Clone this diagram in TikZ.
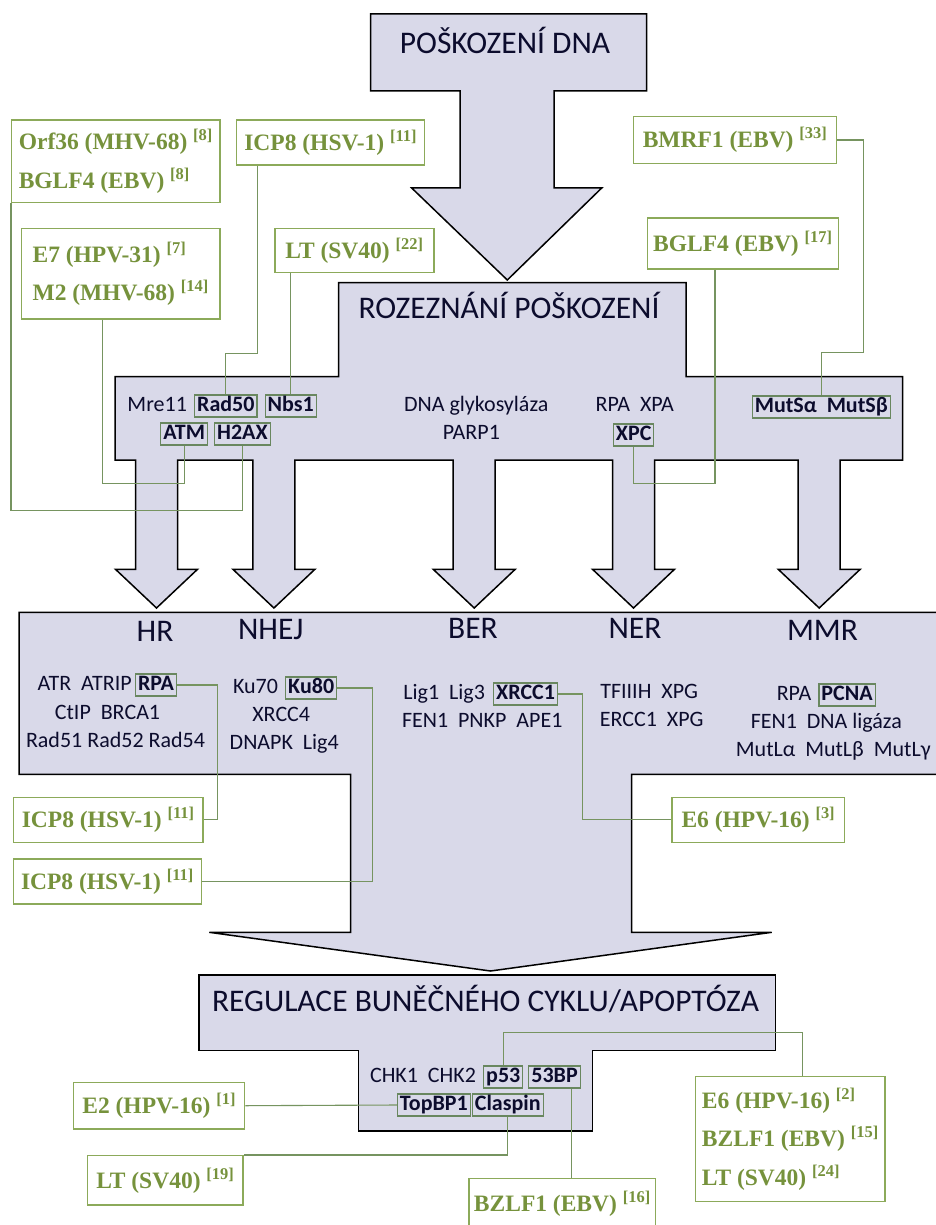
\documentclass[tikz,border=0pt]{standalone}
\usepackage{fontspec}
\setmainfont{Carlito}
\newfontfamily\virfont{Liberation Serif}
\usetikzlibrary{positioning}
\definecolor{shapefill}{RGB}{217,217,233}
\definecolor{lettercolor}{RGB}{12,12,45}
\definecolor{virgreen}{RGB}{118,146,60}
\definecolor{boxgreen}{RGB}{140,170,90}
\definecolor{linkgreen}{RGB}{118,148,96}
\definecolor{protgreen}{RGB}{105,135,95}
\newcommand{\gap}{\hspace{0.45em}}
\newcommand{\rf}[1]{\textsuperscript{[#1]}}
\tikzset{
	block/.style={
		draw=black,
		line width=1.5pt,
		fill=shapefill,
		line join=miter
	},
	title/.style={
		anchor=base,
		text=lettercolor,
		inner sep=0pt,
		font=\fontsize{31.5}{36}\selectfont
	},
	prot/.style={
		text=lettercolor,
		inner sep=0pt,
		text height=15pt,
		text depth=4pt,
		font=\fontsize{22}{26}\selectfont
	},
	protbox/.style={
		prot,
		draw=protgreen,
		line width=1.1pt,
		inner xsep=2.5pt,
		inner ysep=1.5pt,
		font=\fontsize{22}{26}\selectfont\bfseries
	},
	virus/.style={
		draw=boxgreen,
		line width=1.4pt,
		fill=white,
		text=virgreen,
		anchor=north west,
		align=left,
		inner sep=0pt,
		font=\virfont\bfseries\fontsize{23.5}{38.5}\selectfont
	},
	link/.style={
		draw=linkgreen,
		line width=1.1pt
	},
}
\begin{document}
\begin{tikzpicture}[x=1pt,y=-1pt]
\useasboundingbox (0,0) rectangle (936,1225);
\clip (0,0) rectangle (936,1225);
\fill[white] (0,0) rectangle (936,1225);

% block arrows
\draw[block] (370.7,14) -- (646.7,14) -- (646.7,91) -- (554,91) -- (554,188) -- (601.7,188)
  -- (507.3,280) -- (411.7,188) -- (460,188) -- (460,91) -- (370.7,91) -- cycle;
\draw[block] (115,376.7) -- (115,460)
  foreach \c in {156.5,273.9,474.2,633.5,819.2} {
    -- (\c-21,460) -- (\c-21,569.3) -- (\c-41,569.3) -- (\c,608)
    -- (\c+41,569.3) -- (\c+21,569.3) -- (\c+21,460)
  }
  -- (902.7,460) -- (902.7,376.7) -- (686,376.7) -- (686,282.7)
  -- (338.7,282.7) -- (338.7,376.7) -- cycle;
\draw[block] (19,612.3) -- (945,612.3) -- (945,774.3) -- (631.7,774.3) -- (631.7,932.3)
  -- (771.7,932.3) -- (490.5,971) -- (209.3,932.3) -- (350.7,932.3) -- (350.7,774.3)
  -- (19,774.3) -- cycle;
\draw[block] (199,975) -- (775.7,975) -- (775.7,1050.7) -- (592.7,1050.7) -- (592.7,1131)
  -- (358.3,1131) -- (358.3,1050.7) -- (199,1050.7) -- cycle;

% titles
\node[title] (tdamage) at (505,53.3) {POŠKOZENÍ DNA};
\node[title] (trecog) at (509,318.3) {ROZEZNÁNÍ POŠKOZENÍ};
\node[title] (thr) at (155,641.7) {HR};
\node[title] (tnhej) at (270.8,639.3) {NHEJ};
\node[title] (tber) at (473,638.3) {BER};
\node[title] (tner) at (635,638.3) {NER};
\node[title] (tmmr) at (822.5,640) {MMR};
\node[title] (tcycle) at (485.5,1011.7) {REGULACE BUNĚČNÉHO CYKLU/APOPTÓZA};

% proteins: recognition
\node[prot] (mre11) at (157.2,406) {Mre11};
\node[protbox, right=7pt of mre11] (rad50) {Rad50};
\node[protbox, right=7pt of rad50] (nbs1) {Nbs1};
\node[protbox] (atm) at (184.2,434) {ATM};
\node[protbox, right=6pt of atm] (h2ax) {H2AX};
\node[prot] (glyk) at (476.2,406) {DNA glykosyláza};
\node[prot] (parp1) at (471.4,434) {PARP1};
\node[prot] (xpa) at (634.8,406) {RPA\gap XPA};
\node[protbox] (xpc) at (633.7,435) {XPC};
\node[protbox] (muts) at (821.3,407) {MutSα\gap MutSβ};

% proteins: repair pathways
\node[prot] (atr) at (84.7,685) {ATR\gap ATRIP};
\node[protbox, right=3pt of atr] (rpa) {RPA};
\node[prot] (ctip) at (107.5,714) {CtIP\gap BRCA1};
\node[prot] (rad5x) at (115.5,742) {Rad51 Rad52 Rad54};
\node[prot] (ku70) at (255.5,688) {Ku70};
\node[protbox, right=7pt of ku70] (ku80) {Ku80};
\node[prot] (xrcc4) at (281.2,716) {XRCC4};
\node[prot] (dnapk) at (284.2,744) {DNAPK\gap Lig4};
\node[prot] (lig) at (444.2,694) {Lig1\gap Lig3};
\node[protbox, right=8pt of lig] (xrcc1) {XRCC1};
\node[prot] (fen1) at (482.2,722) {FEN1\gap PNKP\gap APE1};
\node[prot] (tfiih) at (649.2,693) {TFIIIH\gap XPG};
\node[prot] (ercc1) at (651.7,721) {ERCC1\gap XPG};
\node[prot] (rpam) at (794,695) {RPA};
\node[protbox, right=7pt of rpam] (pcna) {PCNA};
\node[prot] (fenlig) at (826.3,723) {FEN1\gap DNA ligáza};
\node[prot] (mutl) at (833.3,751) {MutLα\gap MutLβ\gap MutLγ};

% proteins: cell cycle
\node[prot] (chk) at (423,1077) {CHK1\gap CHK2};
\node[protbox, right=7pt of chk] (p53) {p53};
\node[protbox, right=5pt of p53] (bp53) {53BP};
\node[protbox] (topbp1) at (433.9,1105) {TopBP1};
\node[protbox, right=1pt of topbp1] (claspin) {Claspin};

% viral proteins
\node[virus, minimum width=208.3pt, minimum height=82.4pt] (orf) at (11,119.3) {Orf36 (MHV-68) \rf{8}\\BGLF4 (EBV) \rf{8}};
\node[virus, minimum width=188pt, minimum height=45pt] (icpa) at (236,119.3) {ICP8 (HSV-1) \rf{11}};
\node[virus, minimum width=198.6pt, minimum height=90.6pt] (e7) at (20.7,227.7) {E7 (HPV-31) \rf{7}\\M2 (MHV-68) \rf{14}};
\node[virus, minimum width=159pt, minimum height=44pt] (lt22) at (274.3,227.7) {LT (SV40) \rf{22}};
\node[virus, minimum width=203.3pt, minimum height=46.7pt] (bmrf) at (632.7,116) {BMRF1 (EBV) \rf{33}};
\node[virus, minimum width=191pt, minimum height=51pt] (bglf) at (646.7,217.3) {BGLF4 (EBV) \rf{17}};
\node[virus, minimum width=189.6pt, minimum height=45pt] (icpb) at (12.7,796.7) {ICP8 (HSV-1) \rf{11}};
\node[virus, minimum width=188pt, minimum height=45pt] (icpc) at (12.7,858.3) {ICP8 (HSV-1) \rf{11}};
\node[virus, minimum width=172.7pt, minimum height=45pt] (e6c) at (671.3,796.7) {E6 (HPV-16) \rf{3}};
\node[virus, minimum width=171pt, minimum height=46.6pt] (e2) at (73,1081.7) {E2 (HPV-16) \rf{1}};
\node[virus, minimum width=155.3pt, minimum height=49.3pt] (lt19) at (87,1155) {LT (SV40) \rf{19}};
\node[virus, minimum width=186.7pt, minimum height=50pt] (bzlf) at (468.3,1177.7) {BZLF1 (EBV) \rf{16}};
\node[virus, minimum width=189.3pt, minimum height=125.3pt] (e6b) at (695,1075.7) {E6 (HPV-16) \rf{2}\\BZLF1 (EBV) \rf{15}\\LT (SV40) \rf{24}};

% links
\draw[link] ([xshift=21.7pt]icpa.south west) -- ++(0,187.4) -| (rad50.north);
\draw[link] (nbs1.north |- lt22.south) -- (nbs1.north);
\draw[link] ([xshift=82pt]e7.south west) -- ++(0,163.4) -| (atm.south);
\draw[link] (orf.south west) -- ++(0,307.6) -| (h2ax.south);
\draw[link] (bmrf.east) -| ++(26.3,212.4) -| (muts.north);
\draw[link] ([xshift=68.3pt]bglf.south west) -- ++(0,213.4) -| (xpc.south);
\draw[link] (rpa.east) -| ([xshift=14pt]icpb.east) -- (icpb.east);
\draw[link] (ku80.east) -| ([xshift=170pt]icpc.east) -- (icpc.east);
\draw[link] (xrcc1.east) -| ([xshift=-89pt]e6c.west) -- (e6c.west);
\draw[link] (e2.east) -- (topbp1.west);
\draw[link] (claspin.south) |- (lt19.north east);
\coordinate (l53) at ([xshift=17pt]bp53.south);
\draw[link] (l53) -- (l53 |- bzlf.north);
\draw[link] (p53.north) -- ++(0,-32.7) -| ([xshift=12pt]e6b.north);
\end{tikzpicture}
\end{document}
